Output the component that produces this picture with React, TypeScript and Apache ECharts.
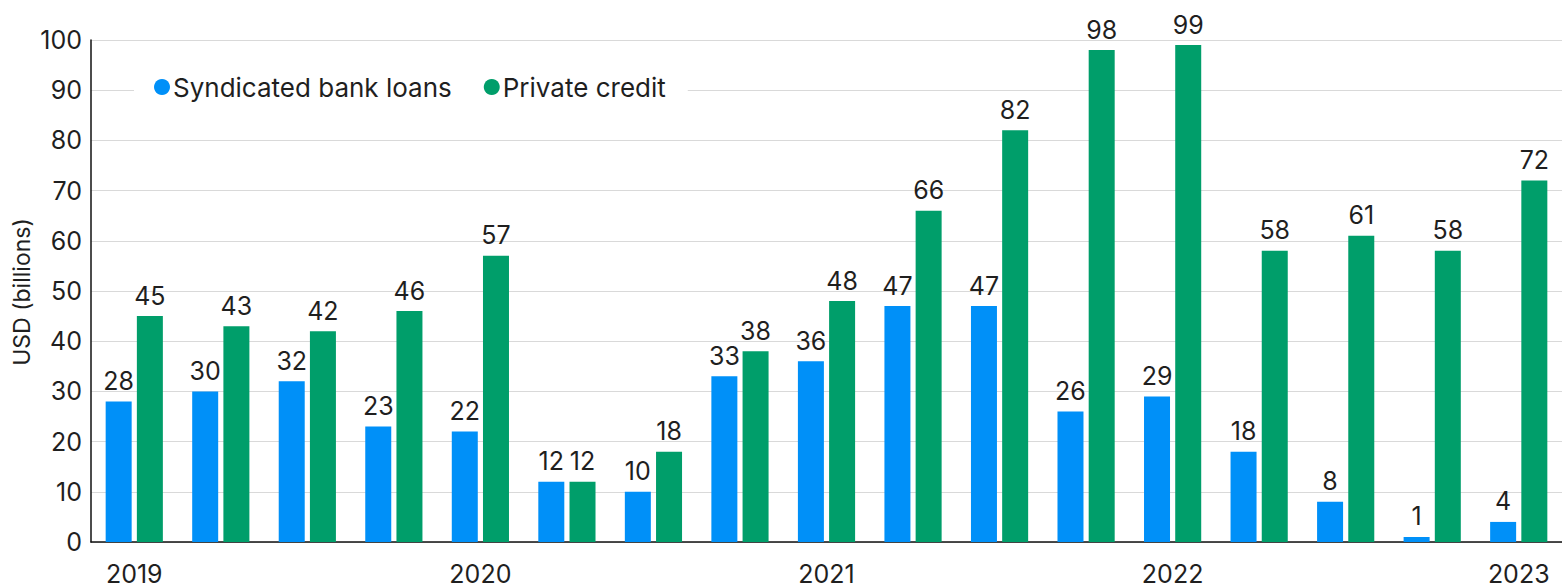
import React, { useEffect, useRef } from "react";
import * as echarts from "echarts";

const categories = [
  "2019 Q1", "2019 Q2", "2019 Q3", "2019 Q4",
  "2020 Q1", "2020 Q2", "2020 Q3", "2020 Q4",
  "2021 Q1", "2021 Q2", "2021 Q3", "2021 Q4",
  "2022 Q1", "2022 Q2", "2022 Q3", "2022 Q4",
  "2023 Q1",
];
const syndicatedBankLoans = [28, 30, 32, 23, 22, 12, 10, 33, 36, 47, 47, 26, 29, 18, 8, 1, 4];
const privateCredit = [45, 43, 42, 46, 57, 12, 18, 38, 48, 66, 82, 98, 99, 58, 61, 58, 72];
const seriesNames = ["Syndicated bank loans", "Private credit"];
const yAxisTitle = "USD (billions)";

const FONT = "Inter, 'Noto Sans', sans-serif";
const TEXT = "#1f1f1f";
const FS = 25;

export default function App() {
  const ref = useRef<HTMLDivElement>(null);
  useEffect(() => {
    if (!ref.current) return;
    const chart = echarts.init(ref.current, undefined, { renderer: "svg" });
    chart.setOption({
      animation: false,
      textStyle: { fontFamily: FONT, color: TEXT },
      grid: { left: 91, right: -15, top: 40, bottom: 45, containLabel: false },
      legend: {
        left: 134,
        top: 66,
        padding: [8, 22, 8, 20],
        backgroundColor: "#ffffff",
        icon: "circle",
        itemWidth: 16,
        itemHeight: 16,
        itemGap: 32,
        textStyle: { fontFamily: FONT, fontSize: 26, color: TEXT, padding: [0, 0, 0, -2] },
        data: seriesNames,
      },
      graphic: [
        {
          type: "text",
          x: 22,
          y: 292,
          rotation: Math.PI / 2,
          style: {
            text: yAxisTitle,
            fontFamily: FONT,
            fontSize: 23,
            fill: TEXT,
            textAlign: "center",
            textVerticalAlign: "middle",
          },
        },
      ],
      xAxis: {
        type: "category",
        data: categories,
        axisLine: { lineStyle: { color: "#111", width: 1.5 } },
        axisTick: { show: false },
        axisLabel: {
          interval: 3,
          margin: 19,
          fontFamily: FONT,
          fontSize: FS,
          color: TEXT,
          formatter: (v: string) => v.split(" ")[0],
        },
      },
      yAxis: {
        type: "value",
        min: 0,
        max: 100,
        interval: 10,
        axisLine: { show: true, lineStyle: { color: "#111", width: 1.5 } },
        axisTick: { show: false },
        axisLabel: { margin: 9, fontFamily: FONT, fontSize: FS, color: TEXT },
        splitLine: { lineStyle: { color: "#d9d9d9", width: 1.2 } },
      },
      series: [
        {
          name: seriesNames[0],
          type: "bar",
          data: syndicatedBankLoans,
          barWidth: 26,
          barGap: "20%",
          itemStyle: { color: "#0090F8" },
          label: { show: true, position: "top", distance: 8, fontFamily: FONT, fontSize: FS, color: TEXT },
        },
        {
          name: seriesNames[1],
          type: "bar",
          data: privateCredit,
          barWidth: 26,
          barGap: "20%",
          itemStyle: { color: "#009E6A" },
          label: { show: true, position: "top", distance: 8, fontFamily: FONT, fontSize: FS, color: TEXT },
        },
      ],
    });
    return () => chart.dispose();
  }, []);
  return (
    <div
      ref={ref}
      style={{ position: "fixed", left: 0, top: 0, width: 1562, height: 587, background: "#fff" }}
    />
  );
}
